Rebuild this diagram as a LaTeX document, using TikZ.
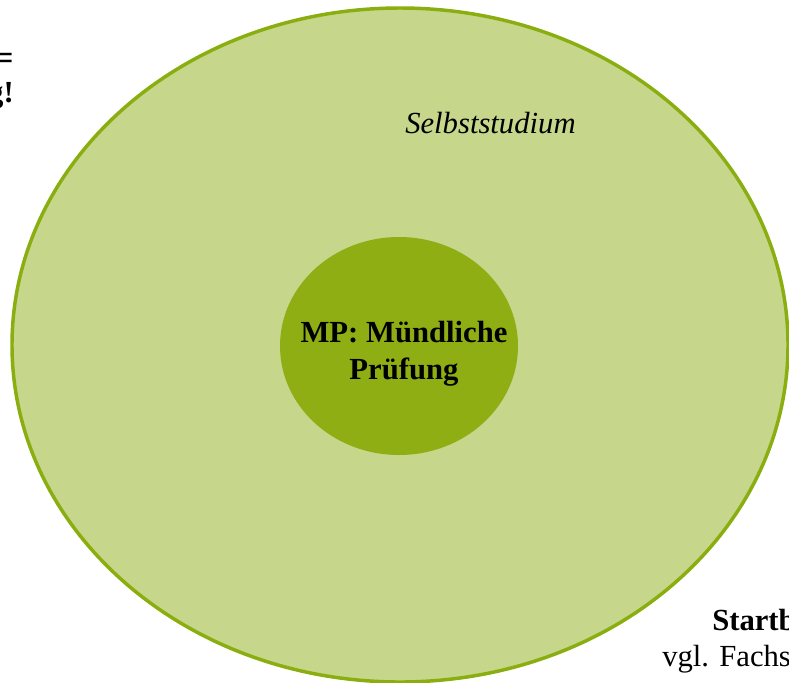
\documentclass[tikz,border=0pt]{standalone}
\usepackage{fontspec}
\setmainfont{Liberation Serif}
\usetikzlibrary{shapes.geometric}
\definecolor{outerfill}{RGB}{198,214,138}
\definecolor{ringgreen}{RGB}{138,174,16}
\definecolor{innerfill}{RGB}{143,174,20}
\tikzset{
  bigtext/.style={font=\fontsize{23}{27}\selectfont, text=black, inner sep=0pt},
}
\begin{document}
\begin{tikzpicture}[x=0.75pt,y=-0.75pt]
\useasboundingbox (0,0) rectangle (789,682);
\clip (0,0) rectangle (789,682);
\node[ellipse, draw=ringgreen, line width=2.6pt, fill=outerfill, inner sep=0pt,
      minimum width=582pt, minimum height=505.5pt] (outer) at (400,345) {};
\node[ellipse, fill=innerfill, inner sep=0pt,
      minimum width=178.5pt, minimum height=163.5pt] (inner) at (399,346) {};
\node[bigtext, anchor=base] (mp1) at (404,342) {\bfseries MP: Mündliche};
\node[bigtext, anchor=base] (mp2) at (404,379) {\bfseries Prüfung};
\node[bigtext, anchor=base west] (selbst) at (405,133) {\itshape Selbststudium};
\node[bigtext, anchor=base east] (tl1) at (14,69) {\fontsize{26}{30}\selectfont\bfseries =};
\node[bigtext, anchor=base east] (tl2) at (14,102) {\bfseries g!};
\node[bigtext, anchor=base west] (br1) at (712,630) {\bfseries Startb};
\node[bigtext, anchor=base west] (br2) at (662,666) {vgl. Fachs};
\end{tikzpicture}
\end{document}
